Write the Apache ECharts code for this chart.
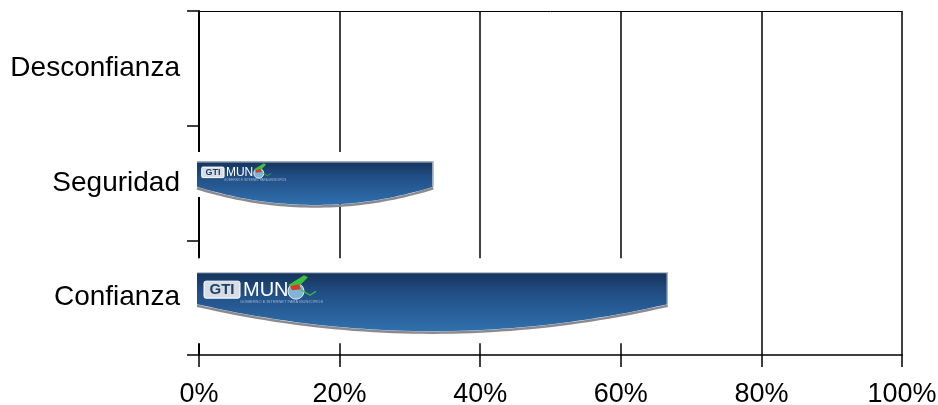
<!DOCTYPE html>
<html>
<head>
<meta charset="utf-8">
<script src="https://cdn.jsdelivr.net/npm/echarts@6/dist/echarts.min.js"></script>
<style>
html,body{margin:0;padding:0;background:#fff;}
#chart{width:938px;height:405px;}
</style>
</head>
<body>
<div id="chart"></div>
<script>
// ---- data ----
const categories = ['Confianza', 'Seguridad', 'Desconfianza'];
const values = [66.67, 33.33, 0];
const xTicks = [0, 20, 40, 60, 80, 100];

// ---- style (shape of each picture bar, offsets in px from the category centre) ----
const barStyle = {
  Confianza: { top: -25.5, edge: 6.5, mid: 33.5, coverTop: -39.5, coverBottom: 45.5, logo: 1 },
  Seguridad: { top: -21.5, edge: 3.8, mid: 22, coverTop: -31, coverBottom: 14, logo: 0.62 }
};

const FONT = '"Liberation Sans", Arial, sans-serif';
const chart = echarts.init(document.getElementById('chart'), null, { renderer: 'canvas' });

function curvePoints(x0, x1, yEdge, yCtrl, n) {
  const pts = [];
  for (let i = 0; i <= n; i++) {
    const t = i / n;
    const x = x1 + (x0 - x1) * t;
    const y = (1 - t) * (1 - t) * yEdge + 2 * t * (1 - t) * yCtrl + t * t * yEdge;
    pts.push([x, y]);
  }
  return pts;
}

function renderItem(params, api) {
  const val = api.value(0);
  const idx = api.value(1);
  if (!val) return { type: 'group', children: [] };
  const st = barStyle[categories[idx]];
  const p0 = api.coord([0, idx]);
  const p1 = api.coord([val, idx]);
  const x0 = p0[0] - 2, x1 = p1[0], cy = p0[1];
  const yTop = cy + st.top, yEdge = cy + st.edge, yMid = cy + st.mid;
  const yCtrl = 2 * yMid - yEdge;
  const curve = curvePoints(x0, x1, yEdge, yCtrl, 48);
  const poly = [[x0, yTop], [x1, yTop]].concat(curve);
  const shadow1 = curvePoints(x0, x1, yEdge + 1.5, yCtrl + 1.5, 48);
  const s = st.logo;
  const lx = x0 + 6 * s + 1, ly = yTop + 9 * s;
  const children = [
    { type: 'rect', shape: { x: x0, y: cy + st.coverTop, width: x1 - x0 + 1, height: st.coverBottom - st.coverTop },
      style: { fill: '#ffffff' } },
    { type: 'polyline', shape: { points: shadow1 },
      style: { stroke: '#8a8a90', lineWidth: 2.5, fill: null } },
    { type: 'polygon', shape: { points: poly },
      style: { fill: new echarts.graphic.LinearGradient(0, 0, 0, 1, [
        { offset: 0, color: '#15335a' },
        { offset: 0.35, color: '#214e85' },
        { offset: 1, color: '#3070ad' }
      ]) } },
    { type: 'polyline', shape: { points: [[x0, yTop + 0.5], [x1 - 0.5, yTop + 0.5], [x1 - 0.5, yEdge]] },
      style: { stroke: '#b9c3cf', lineWidth: 1.2, fill: null } },
    // logo
    { type: 'rect', shape: { x: lx, y: ly, width: 36 * s, height: 17 * s, r: 2 * s },
      style: { fill: '#d8dde3', stroke: '#ffffff', lineWidth: 1 } },
    { type: 'text', style: { text: 'GTI', x: lx + 18 * s, y: ly + 8.5 * s, align: 'center', verticalAlign: 'middle',
      fill: '#1d3f68', font: 'bold ' + Math.round(15 * s) + 'px ' + FONT } },
    { type: 'text', style: { text: 'MUN', x: lx + 39 * s, y: ly + 9 * s, align: 'left', verticalAlign: 'middle',
      fill: '#ffffff', font: Math.round(20 * s) + 'px ' + FONT } },
    { type: 'circle', shape: { cx: lx + 92 * s, cy: ly + 10 * s, r: 8 * s },
      style: { fill: '#7fb6d8', stroke: '#e6f0f6', lineWidth: 1 } },
    { type: 'polygon', shape: { points: [[lx + 84 * s, ly + 4 * s], [lx + 100 * s, ly - 6 * s], [lx + 104 * s, ly - 4 * s], [lx + 94 * s, ly + 6 * s]] },
      style: { fill: '#3fbf3a' } },
    { type: 'polygon', shape: { points: [[lx + 86 * s, ly + 5 * s], [lx + 95 * s, ly + 3 * s], [lx + 97 * s, ly + 8 * s], [lx + 88 * s, ly + 9 * s]] },
      style: { fill: '#d83a2a' } },
    { type: 'polyline', shape: { points: [[lx + 96 * s, ly + 8 * s], [lx + 106 * s, ly + 14 * s], [lx + 112 * s, ly + 10 * s]] },
      style: { stroke: '#3fbf3a', lineWidth: 1.2 * s, fill: null } },
    { type: 'text', style: { text: 'GOBIERNO E INTERNET PARA MUNICIPIOS', x: lx + 36 * s, y: ly + 21 * s, align: 'left', verticalAlign: 'middle',
      fill: '#9fb7cf', font: Math.max(3, Math.round(4 * s)) + 'px ' + FONT } }
  ];
  return { type: 'group', children: children };
}

const option = {
  animation: false,
  backgroundColor: '#ffffff',
  grid: { left: 199, right: 36, top: 11, bottom: 50, containLabel: false, outerBoundsMode: 'none' },
  xAxis: [{
    type: 'value', min: xTicks[0], max: xTicks[xTicks.length - 1], interval: 20,
    position: 'bottom',
    axisLine: { show: true, lineStyle: { color: '#000', width: 1.5 } },
    axisTick: { show: true, length: 12, inside: false, lineStyle: { color: '#000', width: 1.5 } },
    axisLabel: { formatter: '{value}%', color: '#000', fontFamily: FONT, fontSize: 27, margin: 26 },
    splitLine: { show: true, lineStyle: { color: '#000', width: 1.5 } }
  }, {
    type: 'value', min: 0, max: 100, position: 'top',
    axisLine: { show: true, onZero: false, lineStyle: { color: '#000', width: 1 } },
    axisTick: { show: false }, axisLabel: { show: false }, splitLine: { show: false }
  }],
  yAxis: {
    type: 'category', data: categories,
    axisLine: { show: true, onZero: false, lineStyle: { color: '#000', width: 2 } },
    axisTick: { show: true, length: 12, lineStyle: { color: '#000', width: 1.5 } },
    axisLabel: { color: '#000', fontFamily: FONT, fontSize: 28, margin: 19 },
    splitLine: { show: false }
  },
  series: [{
    type: 'custom',
    renderItem: renderItem,
    encode: { x: 0, y: 1 },
    z: 10,
    data: values.map((v, i) => [v, i])
  }]
};
chart.setOption(option);
</script>
</body>
</html>
